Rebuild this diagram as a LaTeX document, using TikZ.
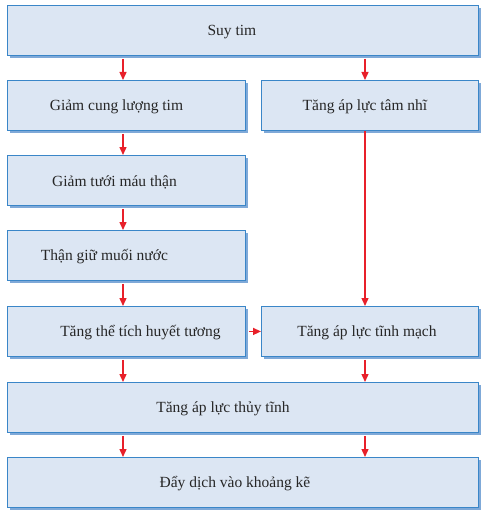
\documentclass[tikz,border=0pt]{standalone}
\usepackage{fontspec}
\setmainfont{Liberation Serif}
\usetikzlibrary{arrows.meta,shadows}
\definecolor{boxfill}{HTML}{DCE6F3}
\definecolor{boxline}{HTML}{3A86C8}
\definecolor{boxshadow}{HTML}{7FA9D8}
\definecolor{arrred}{HTML}{E8202A}
\tikzset{
  box/.style={draw=boxline, line width=0.9pt, fill=boxfill, rectangle, anchor=north west,
    minimum height=50pt, inner sep=0pt,
    drop shadow={shadow xshift=3pt, shadow yshift=-3pt, fill=boxshadow, opacity=1}},
  lbl/.style={font=\fontsize{15.5}{18}\selectfont, text=black!85, yshift=-1.5pt},
  arr/.style={draw=arrred, line width=1.4pt, -{Triangle[length=8pt,width=7pt]}}
}
\begin{document}
\begin{tikzpicture}[x=1pt,y=-1pt]
\useasboundingbox (0,0) rectangle (486,516);
\coordinate (cl) at (123,0);
\coordinate (cr) at (365,0);
\node[box, minimum width=471pt, label={[lbl,xshift=-11pt]center:Suy tim}] (suy) at (7,5) {};
\node[box, minimum width=238pt, label={[lbl,xshift=-10pt]center:Giảm cung lượng tim}] (giam) at (7,80) {};
\node[box, minimum width=217pt, label={[lbl,xshift=-5pt]center:Tăng áp lực tâm nhĩ}] (nhi) at (261,80) {};
\node[box, minimum width=238pt, label={[lbl,xshift=-12pt]center:Giảm tưới máu thận}] (tuoi) at (7,155) {};
\node[box, minimum width=238pt, label={[lbl,xshift=-22pt]center:Thận giữ muối nước}] (giu) at (7,230) {};
\node[box, minimum width=238pt, label={[lbl,xshift=14pt]center:Tăng thể tích huyết tương}] (the) at (7,306) {};
\node[box, minimum width=217pt, label={[lbl,xshift=-3pt]center:Tăng áp lực tĩnh mạch}] (tinh) at (261,306) {};
\node[box, minimum width=471pt, label={[lbl,xshift=-20pt]center:Tăng áp lực thủy tĩnh}] (thuy) at (7,382) {};
\node[box, minimum width=471pt, label={[lbl,xshift=-8pt]center:Đẩy dịch vào khoảng kẽ}] (day) at (7,457) {};
\draw[arr] ([yshift=-3pt]suy.south -| cl) -- (giam.north -| cl);
\draw[arr] ([yshift=-3pt]suy.south -| cr) -- (nhi.north -| cr);
\draw[arr] ([yshift=-3pt]giam.south -| cl) -- (tuoi.north -| cl);
\draw[arr] ([yshift=-3pt]tuoi.south -| cl) -- (giu.north -| cl);
\draw[arr] ([yshift=-3pt]giu.south -| cl) -- (the.north -| cl);
\draw[arr] (nhi.south -| cr) -- (tinh.north -| cr);
\draw[arr] ([xshift=3pt]the.east) -- (tinh.west);
\draw[arr] ([yshift=-3pt]the.south -| cl) -- (thuy.north -| cl);
\draw[arr] ([yshift=-3pt]tinh.south -| cr) -- (thuy.north -| cr);
\draw[arr] ([yshift=-3pt]thuy.south -| cl) -- (day.north -| cl);
\draw[arr] ([yshift=-3pt]thuy.south -| cr) -- (day.north -| cr);
\end{tikzpicture}
\end{document}
